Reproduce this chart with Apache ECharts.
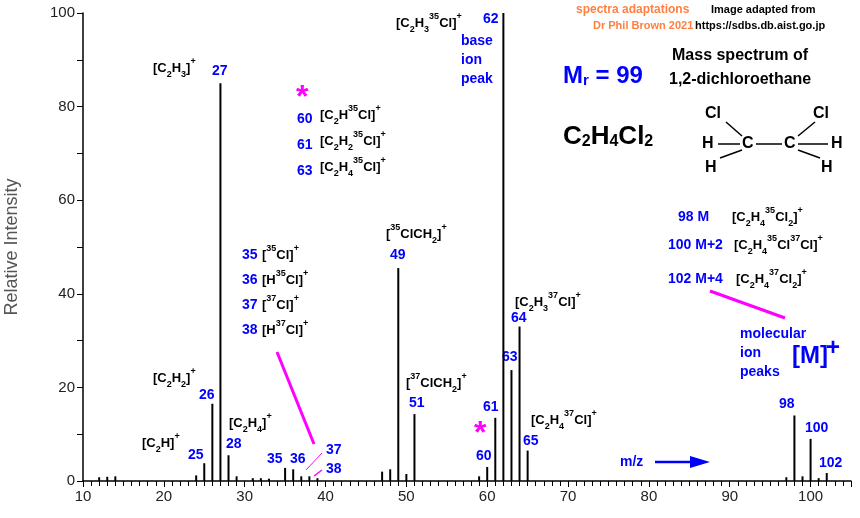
<!DOCTYPE html>
<html><head><meta charset="utf-8">
<script src="https://cdn.jsdelivr.net/npm/echarts@6/dist/echarts.min.js"></script>
<style>html,body{margin:0;padding:0;background:#fff}#c{width:860px;height:518px}</style>
</head><body><div id="c"></div>
<script>
const mz = [12,13,14,24,25,26,27,28,29,31,32,33,35,36,37,38,39,47,48,49,50,51,59,60,61,62,63,64,65,97,98,99,100,101,102];
const intensity = [0.8,0.9,1,1.2,3.8,16.5,85,5.5,1,0.6,0.6,0.5,2.8,2.5,1,1,0.6,2,2.5,45.5,1.5,14.3,1,3,13.5,100,23.7,33,6.5,0.8,14,1,9,0.6,1.7];
const xTicks = [10,20,30,40,50,60,70,80,90,100];
const yTicks = [0,20,40,60,80,100];

const B='#0000ff', K='#000', M='#ff00ff';
const F='Arial, "Liberation Sans", sans-serif';
const rich = {
  k:{fill:K,fontSize:13,fontWeight:'bold',fontFamily:F},
  kb:{fill:K,fontSize:9,fontWeight:'bold',fontFamily:F,verticalAlign:'bottom',lineHeight:13},
  ks:{fill:K,fontSize:9,fontWeight:'bold',fontFamily:F,verticalAlign:'top',lineHeight:22}
};
function t(x,y,text,o){return Object.assign({type:'text',x:x,y:y,style:Object.assign({text:text,font:'bold 14px '+F,fill:B},o||{})});}
function rt(x,y,text,o){return {type:'text',x:x,y:y,style:Object.assign({text:text,rich:rich,fill:K},o||{})};}
const g = [
  rt(396,12,'{k|[C}{kb|2}{k|H}{kb|3}{ks|35}{k|Cl]}{ks|+}'),
  t(483,12,'62'),t(461,34,'base'),t(461,53,'ion'),t(461,72,'peak'),
  t(576,4,'spectra adaptations',{fill:'#ff8040',font:'bold 12px '+F}),
  t(593,20,'Dr Phil Brown 2021',{fill:'#ff8040',font:'bold 11px '+F}),
  t(711,4,'Image adapted from',{fill:K,font:'bold 11px '+F}),
  t(695,20,'https://sdbs.db.aist.go.jp',{fill:K,font:'bold 11px '+F}),
  t(672,48,'Mass spectrum of',{fill:K,font:'bold 16px '+F}),
  t(669,72,'1,2-dichloroethane',{fill:K,font:'bold 16px '+F}),
  rt(563,64,'{m|M}{ms|r}{m| = 99}',{rich:{m:{fill:B,fontSize:24,fontWeight:'bold',fontFamily:F},ms:{fill:B,fontSize:15,fontWeight:'bold',fontFamily:F,verticalAlign:'bottom',lineHeight:22}}}),
  rt(563,124,'{m|C}{s|2}{m|H}{s|4}{m|Cl}{s|2}',{rich:{m:{fill:K,fontSize:26,fontWeight:'bold',fontFamily:F},s:{fill:K,fontSize:16,fontWeight:'bold',fontFamily:F,verticalAlign:'bottom',lineHeight:22}}}),
  t(705,106,'Cl',{fill:K,font:'bold 16px '+F}),t(813,106,'Cl',{fill:K,font:'bold 16px '+F}),
  t(702,136,'H',{fill:K,font:'bold 16px '+F}),t(742,136,'C',{fill:K,font:'bold 16px '+F}),
  t(784,136,'C',{fill:K,font:'bold 16px '+F}),t(831,136,'H',{fill:K,font:'bold 16px '+F}),
  t(705,160,'H',{fill:K,font:'bold 16px '+F}),t(821,160,'H',{fill:K,font:'bold 16px '+F}),
  {type:'line',shape:{x1:726,y1:122,x2:742,y2:136},style:{stroke:K,lineWidth:1.5}},
  {type:'line',shape:{x1:718,y1:144,x2:740,y2:144},style:{stroke:K,lineWidth:1.5}},
  {type:'line',shape:{x1:756,y1:144,x2:782,y2:144},style:{stroke:K,lineWidth:1.5}},
  {type:'line',shape:{x1:798,y1:144,x2:828,y2:144},style:{stroke:K,lineWidth:1.5}},
  {type:'line',shape:{x1:798,y1:136,x2:815,y2:122},style:{stroke:K,lineWidth:1.5}},
  {type:'line',shape:{x1:720,y1:158,x2:742,y2:150},style:{stroke:K,lineWidth:1.5}},
  {type:'line',shape:{x1:798,y1:150,x2:820,y2:158},style:{stroke:K,lineWidth:1.5}},
  t(678,210,'98 M'),rt(732,206,'{k|[C}{kb|2}{k|H}{kb|4}{ks|35}{k|Cl}{kb|2}{k|]}{ks|+}'),
  t(668,238,'100 M+2'),rt(734,234,'{k|[C}{kb|2}{k|H}{kb|4}{ks|35}{k|Cl}{ks|37}{k|Cl]}{ks|+}'),
  t(668,272,'102 M+4'),rt(736,268,'{k|[C}{kb|2}{k|H}{kb|4}{ks|37}{k|Cl}{kb|2}{k|]}{ks|+}'),
  {type:'line',shape:{x1:710,y1:291,x2:785,y2:318},style:{stroke:M,lineWidth:3}},
  t(740,327,'molecular'),t(740,346,'ion'),t(740,365,'peaks'),
  t(792,344,'[M]',{font:'bold 24px '+F}),t(826,336,'+',{font:'bold 24px '+F}),
  t(296,82,'*',{fill:M,font:'bold 32px '+F}),
  t(297,112,'60'),rt(320,104,'{k|[C}{kb|2}{k|H}{ks|35}{k|Cl]}{ks|+}'),
  t(297,138,'61'),rt(320,130,'{k|[C}{kb|2}{k|H}{kb|2}{ks|35}{k|Cl]}{ks|+}'),
  t(297,164,'63'),rt(320,156,'{k|[C}{kb|2}{k|H}{kb|4}{ks|35}{k|Cl]}{ks|+}'),
  rt(386,223,'{k|[}{ks|35}{k|ClCH}{kb|2}{k|]}{ks|+}'),t(390,248,'49'),
  t(242,248,'35'),rt(262,244,'{k|[}{ks|35}{k|Cl]}{ks|+}'),
  t(242,273,'36'),rt(262,269,'{k|[H}{ks|35}{k|Cl]}{ks|+}'),
  t(242,298,'37'),rt(262,294,'{k|[}{ks|37}{k|Cl]}{ks|+}'),
  t(242,323,'38'),rt(262,319,'{k|[H}{ks|37}{k|Cl]}{ks|+}'),
  {type:'line',shape:{x1:277,y1:352,x2:314,y2:444},style:{stroke:M,lineWidth:3}},
  {type:'line',shape:{x1:306,y1:470,x2:322,y2:453},style:{stroke:M,lineWidth:1}},
  {type:'line',shape:{x1:314,y1:476,x2:322,y2:470},style:{stroke:M,lineWidth:1.5}},
  t(326,443,'37'),t(326,462,'38'),t(267,452,'35'),t(290,452,'36'),
  rt(515,291,'{k|[C}{kb|2}{k|H}{kb|3}{ks|37}{k|Cl]}{ks|+}'),t(511,311,'64'),t(502,350,'63'),
  rt(406,372,'{k|[}{ks|37}{k|ClCH}{kb|2}{k|]}{ks|+}'),t(409,396,'51'),
  t(483,400,'61'),t(474,418,'*',{fill:M,font:'bold 32px '+F}),t(476,449,'60'),
  rt(531,409,'{k|[C}{kb|2}{k|H}{kb|4}{ks|37}{k|Cl]}{ks|+}'),t(523,434,'65'),
  rt(153,367,'{k|[C}{kb|2}{k|H}{kb|2}{k|]}{ks|+}'),t(199,388,'26'),
  rt(229,412,'{k|[C}{kb|2}{k|H}{kb|4}{k|]}{ks|+}'),t(226,437,'28'),
  rt(142,432,'{k|[C}{kb|2}{k|H]}{ks|+}'),t(188,448,'25'),
  rt(153,57,'{k|[C}{kb|2}{k|H}{kb|3}{k|]}{ks|+}'),t(212,64,'27'),
  t(779,397,'98'),t(805,421,'100'),t(819,456,'102'),
  t(620,455,'m/z'),
  {type:'line',shape:{x1:655,y1:462,x2:700,y2:462},style:{stroke:B,lineWidth:2.5}},
  {type:'polygon',shape:{points:[[690,456],[710,462],[690,468]]},style:{fill:B}}
];
const chart = echarts.init(document.getElementById('c'));
chart.setOption({
  animation:false,
  grid:{left:83,right:9,top:13,bottom:37,containLabel:false,outerBoundsMode:'none'},
  xAxis:{type:'value',min:10,max:105,interval:10,
    axisLine:{lineStyle:{color:K,width:1.5}},
    axisTick:{length:6,lineStyle:{color:K}},
    minorTick:{show:true,splitNumber:10,length:5,lineStyle:{color:K}},
    axisLabel:{color:'#222',fontSize:15,fontFamily:F,customValues:xTicks},splitLine:{show:false}},
  yAxis:{type:'value',min:0,max:100,interval:20,name:'Relative Intensity',nameLocation:'middle',nameGap:62,
    nameTextStyle:{color:'#555',fontSize:18,fontFamily:F},
    axisLine:{show:true,lineStyle:{color:K,width:1.5}},
    axisTick:{show:true,length:6,lineStyle:{color:K}},
    minorTick:{show:true,splitNumber:2,length:6,lineStyle:{color:K}},
    axisLabel:{color:'#222',fontSize:15,fontFamily:F},splitLine:{show:false}},
  series:[{type:'bar',barWidth:2,itemStyle:{color:K},data:mz.map((m,i)=>[m,intensity[i]])}],
  graphic:g
});
</script></body></html>
